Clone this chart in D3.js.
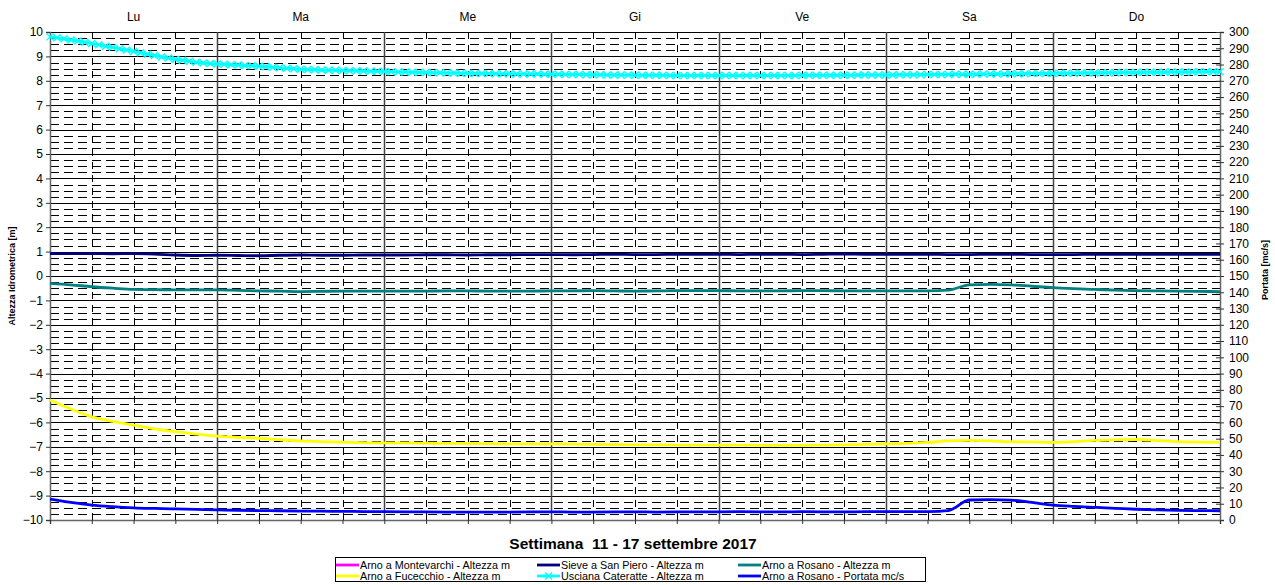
<!DOCTYPE html>
<html><head><meta charset="utf-8">
<script src="https://cdn.jsdelivr.net/npm/d3@7"></script>
<style>body{margin:0;background:#fff;} svg{display:block;font-family:"Liberation Sans",Arial,sans-serif;}</style>
</head><body>
<svg id="c" width="1275" height="585"></svg>
<script>
const days = ["Lu","Ma","Me","Gi","Ve","Sa","Do"];
const leftTicks = [10,9,8,7,6,5,4,3,2,1,0,-1,-2,-3,-4,-5,-6,-7,-8,-9,-10];
const rightTicks = [300,290,280,270,260,250,240,230,220,210,200,190,180,170,160,150,140,130,120,110,100,90,80,70,60,50,40,30,20,10,0];
const title = "Settimana  11 - 17 settembre 2017";
const leftTitle = "Altezza Idrometrica [m]";
const rightTitle = "Portata [mc/s]";

// 3-hourly series (57 values, Mon 00:00 .. Mon 00:00 next week)
const montevarchi = [];
const sieveSanPiero = [
 0.92,0.92,0.92,0.91,0.92,0.90,0.86,0.84,
 0.85,0.84,0.83,0.85,0.86,0.85,0.85,0.86,
 0.86,0.86,0.87,0.87,0.86,0.87,0.87,0.88,
 0.88,0.87,0.88,0.89,0.88,0.88,0.89,0.89,
 0.89,0.88,0.89,0.89,0.88,0.89,0.90,0.89,
 0.89,0.89,0.89,0.88,0.88,0.89,0.89,0.88,
 0.88,0.88,0.89,0.89,0.89,0.89,0.89,0.89,0.89];
const rosanoAltezza = [
 -0.30,-0.36,-0.44,-0.50,-0.55,-0.56,-0.57,-0.57,
 -0.57,-0.59,-0.61,-0.62,-0.64,-0.63,-0.62,-0.62,
 -0.62,-0.62,-0.62,-0.61,-0.61,-0.62,-0.62,-0.62,
 -0.61,-0.61,-0.60,-0.61,-0.62,-0.61,-0.60,-0.60,
 -0.60,-0.61,-0.61,-0.61,-0.60,-0.60,-0.61,-0.61,
 -0.61,-0.61,-0.61,-0.58,-0.36,-0.34,-0.36,-0.42,
 -0.48,-0.52,-0.55,-0.58,-0.60,-0.61,-0.62,-0.63,-0.64];
const fucecchio = [
 -5.08,-5.45,-5.77,-5.96,-6.11,-6.26,-6.38,-6.48,
 -6.56,-6.61,-6.65,-6.71,-6.76,-6.79,-6.81,-6.83,
 -6.84,-6.84,-6.85,-6.86,-6.86,-6.87,-6.88,-6.88,
 -6.88,-6.89,-6.90,-6.91,-6.92,-6.92,-6.93,-6.93,
 -6.93,-6.93,-6.94,-6.94,-6.94,-6.93,-6.92,-6.90,
 -6.88,-6.86,-6.82,-6.76,-6.74,-6.76,-6.79,-6.80,
 -6.82,-6.79,-6.74,-6.72,-6.70,-6.75,-6.79,-6.81,-6.82];
const rosanoPortata = [
 12.9,10.9,9.2,8.2,7.5,7.1,6.8,6.5,
 6.2,6.0,5.8,5.7,5.5,5.4,5.3,5.2,
 5.1,5.0,5.0,4.9,4.8,4.8,4.9,5.0,
 5.0,4.9,4.9,5.0,5.0,4.9,5.0,5.0,
 5.0,5.1,5.0,5.0,5.1,5.0,5.0,5.1,
 5.1,5.1,5.2,5.8,12.3,12.5,12.2,10.8,
 9.2,8.4,7.8,7.2,6.6,6.2,5.9,5.8,5.7];
// hourly series (169 values)
const uscianaCateratte = [
 9.80,9.76,9.72,9.67,9.63,9.58,9.53,9.48,9.42,9.37,9.31,9.26,9.20,9.15,9.09,9.04,8.98,8.93,8.88,8.84,8.80,8.76,8.73,8.71,
 8.69,8.68,8.66,8.65,8.63,8.62,8.60,8.58,8.56,8.53,8.51,8.49,8.47,8.46,8.45,8.44,8.43,8.43,8.42,8.41,8.41,8.40,8.39,8.39,
 8.38,8.37,8.36,8.36,8.35,8.34,8.34,8.33,8.33,8.32,8.32,8.31,8.31,8.30,8.30,8.30,8.29,8.29,8.29,8.28,8.28,8.28,8.28,8.27,
 8.27,8.27,8.26,8.26,8.26,8.25,8.25,8.25,8.24,8.24,8.24,8.24,8.23,8.23,8.23,8.23,8.23,8.22,8.22,8.22,8.22,8.22,8.22,8.22,
 8.22,8.22,8.22,8.22,8.22,8.22,8.22,8.22,8.22,8.22,8.22,8.22,8.23,8.23,8.23,8.23,8.23,8.23,8.23,8.23,8.24,8.24,8.24,8.24,
 8.24,8.24,8.25,8.25,8.25,8.25,8.26,8.26,8.26,8.26,8.27,8.27,8.27,8.27,8.28,8.28,8.28,8.28,8.29,8.29,8.29,8.30,8.30,8.30,
 8.30,8.31,8.31,8.31,8.32,8.32,8.32,8.33,8.33,8.33,8.34,8.34,8.34,8.35,8.35,8.35,8.35,8.36,8.36,8.36,8.36,8.37,8.37,8.37,8.37];

const legendItems = [
 {name:"Arno a Montevarchi - Altezza m", color:"#FF00FF"},
 {name:"Sieve a San Piero - Altezza m", color:"#000080"},
 {name:"Arno a Rosano - Altezza m", color:"#008080"},
 {name:"Arno a Fucecchio - Altezza m", color:"#FFFF00"},
 {name:"Usciana Cateratte - Altezza m", color:"#00FFFF", marker:true},
 {name:"Arno a Rosano - Portata mc/s", color:"#0000FF"}
];

const L=50, R=1220, T=32, B=520;
const svg = d3.select("#c");
const x = d3.scaleLinear().domain([0,168]).range([L,R]);
const y = d3.scaleLinear().domain([-10,10]).range([B,T]);
const y2 = d3.scaleLinear().domain([0,300]).range([B,T]);

const g = svg.append("g");
// minor horizontal dashed grid (0.25 m)
const minor = d3.range(-10,10,0.25).filter(v=>Math.abs(v-Math.round(v))>1e-6);
g.selectAll("line.hm").data(minor).join("line")
 .attr("x1",L).attr("x2",R).attr("y1",d=>Math.round(y(d))+0.5).attr("y2",d=>Math.round(y(d))+0.5)
 .attr("stroke","#000").attr("stroke-width",1).attr("stroke-dasharray","9,5");
// vertical dashed 6h lines
const v6 = d3.range(6,168,6).filter(h=>h%24!==0);
g.selectAll("line.v6").data(v6).join("line")
 .attr("x1",d=>Math.round(x(d))+0.5).attr("x2",d=>Math.round(x(d))+0.5).attr("y1",T).attr("y2",B)
 .attr("stroke","#000").attr("stroke-width",1).attr("stroke-dasharray","7,6");
// major horizontal
g.selectAll("line.hM").data(leftTicks).join("line")
 .attr("x1",L).attr("x2",R).attr("y1",d=>Math.round(y(d))+0.5).attr("y2",d=>Math.round(y(d))+0.5)
 .attr("stroke","#000").attr("stroke-width",1);
// day lines
g.selectAll("line.vd").data(d3.range(24,168,24)).join("line")
 .attr("x1",d=>Math.round(x(d))+0.5).attr("x2",d=>Math.round(x(d))+0.5).attr("y1",T).attr("y2",B)
 .attr("stroke","#444").attr("stroke-width",1.5);

// axes
const la = svg.append("g").attr("transform",`translate(${L},0)`)
 .call(d3.axisLeft(y).tickValues(leftTicks).tickSize(4).tickPadding(3).tickFormat(d3.format("d")));
la.select(".domain").attr("stroke","#666").attr("stroke-width",1.5);
la.selectAll(".tick line").attr("stroke","#333");
la.selectAll("text").attr("font-size",12).attr("fill","#000");

const ra = svg.append("g").attr("transform",`translate(${R},0)`)
 .call(d3.axisRight(y2).tickValues(rightTicks).tickSize(4).tickPadding(5));
ra.select(".domain").attr("stroke","#666").attr("stroke-width",1.5);
ra.selectAll(".tick line").attr("x1",-4).attr("stroke","#333");
ra.selectAll("text").attr("font-size",12).attr("fill","#000");

const ba = svg.append("g").attr("transform",`translate(0,${B})`)
 .call(d3.axisBottom(x).tickValues(d3.range(0,169,6)).tickSize(4).tickFormat(""));
ba.select(".domain").attr("stroke","#666").attr("stroke-width",1.5);
ba.selectAll(".tick line").attr("stroke","#333");

// day labels
svg.selectAll("text.day").data(days).join("text")
 .attr("x",(d,i)=>x(i*24+12)).attr("y",21).attr("text-anchor","middle")
 .attr("font-size",12).text(d=>d);

// lines
const hx3 = (d,i)=>x(i*3), hx1=(d,i)=>x(i);
function drawLine(data, xf, yf, color, w){
  svg.append("path").datum(data).attr("fill","none").attr("stroke",color).attr("stroke-width",w)
   .attr("stroke-linejoin","round")
   .attr("d", d3.line().x(xf).y(d=>yf(d)).curve(d3.curveMonotoneX));
}
drawLine(sieveSanPiero, hx3, y, "#000080", 2.8);
drawLine(rosanoAltezza, hx3, y, "#008080", 2.8);
drawLine(fucecchio, hx3, y, "#FFFF00", 2.8);
drawLine(rosanoPortata, hx3, y2, "#0000FF", 2.8);
drawLine(uscianaCateratte, hx1, y, "#00FFFF", 3);
svg.append("g").selectAll("path").data(uscianaCateratte).join("path")
 .attr("transform",(d,i)=>`translate(${x(i)},${y(d)})`)
 .attr("d","M-3.5,-3.5L3.5,3.5M-3.5,3.5L3.5,-3.5").attr("stroke","#00FFFF").attr("stroke-width",1.4).attr("fill","none");

// titles
svg.append("text").attr("x",633).attr("y",549).attr("text-anchor","middle")
 .attr("font-size",15.5).attr("font-weight","bold").style("white-space","pre").text(title);
svg.append("text").attr("transform","translate(15,276) rotate(-90)").attr("text-anchor","middle")
 .attr("font-size",9).attr("font-weight","bold").text(leftTitle);
svg.append("text").attr("transform","translate(1268,270) rotate(-90)").attr("text-anchor","middle")
 .attr("font-size",9).attr("font-weight","bold").text(rightTitle);

// legend
const lg = svg.append("g");
lg.append("rect").attr("x",335.5).attr("y",557.5).attr("width",590).attr("height",24)
 .attr("fill","#fff").attr("stroke","#000").attr("stroke-width",1);
const colX=[336,537,738];
legendItems.forEach((it,i)=>{
  const cx=colX[i%3], cy= i<3?565:576;
  lg.append("line").attr("x1",cx).attr("x2",cx+23).attr("y1",cy).attr("y2",cy)
   .attr("stroke",it.color).attr("stroke-width",2.8);
  if(it.marker){
    lg.append("path").attr("transform",`translate(${cx+11.5},${cy})`).attr("d","M-3.5,-3.5L3.5,3.5M-3.5,3.5L3.5,-3.5")
     .attr("stroke",it.color).attr("stroke-width",1.4);
  }
  lg.append("text").attr("x",cx+24).attr("y",cy+4).attr("font-size",10.8).text(it.name);
});
</script>
</body></html>
